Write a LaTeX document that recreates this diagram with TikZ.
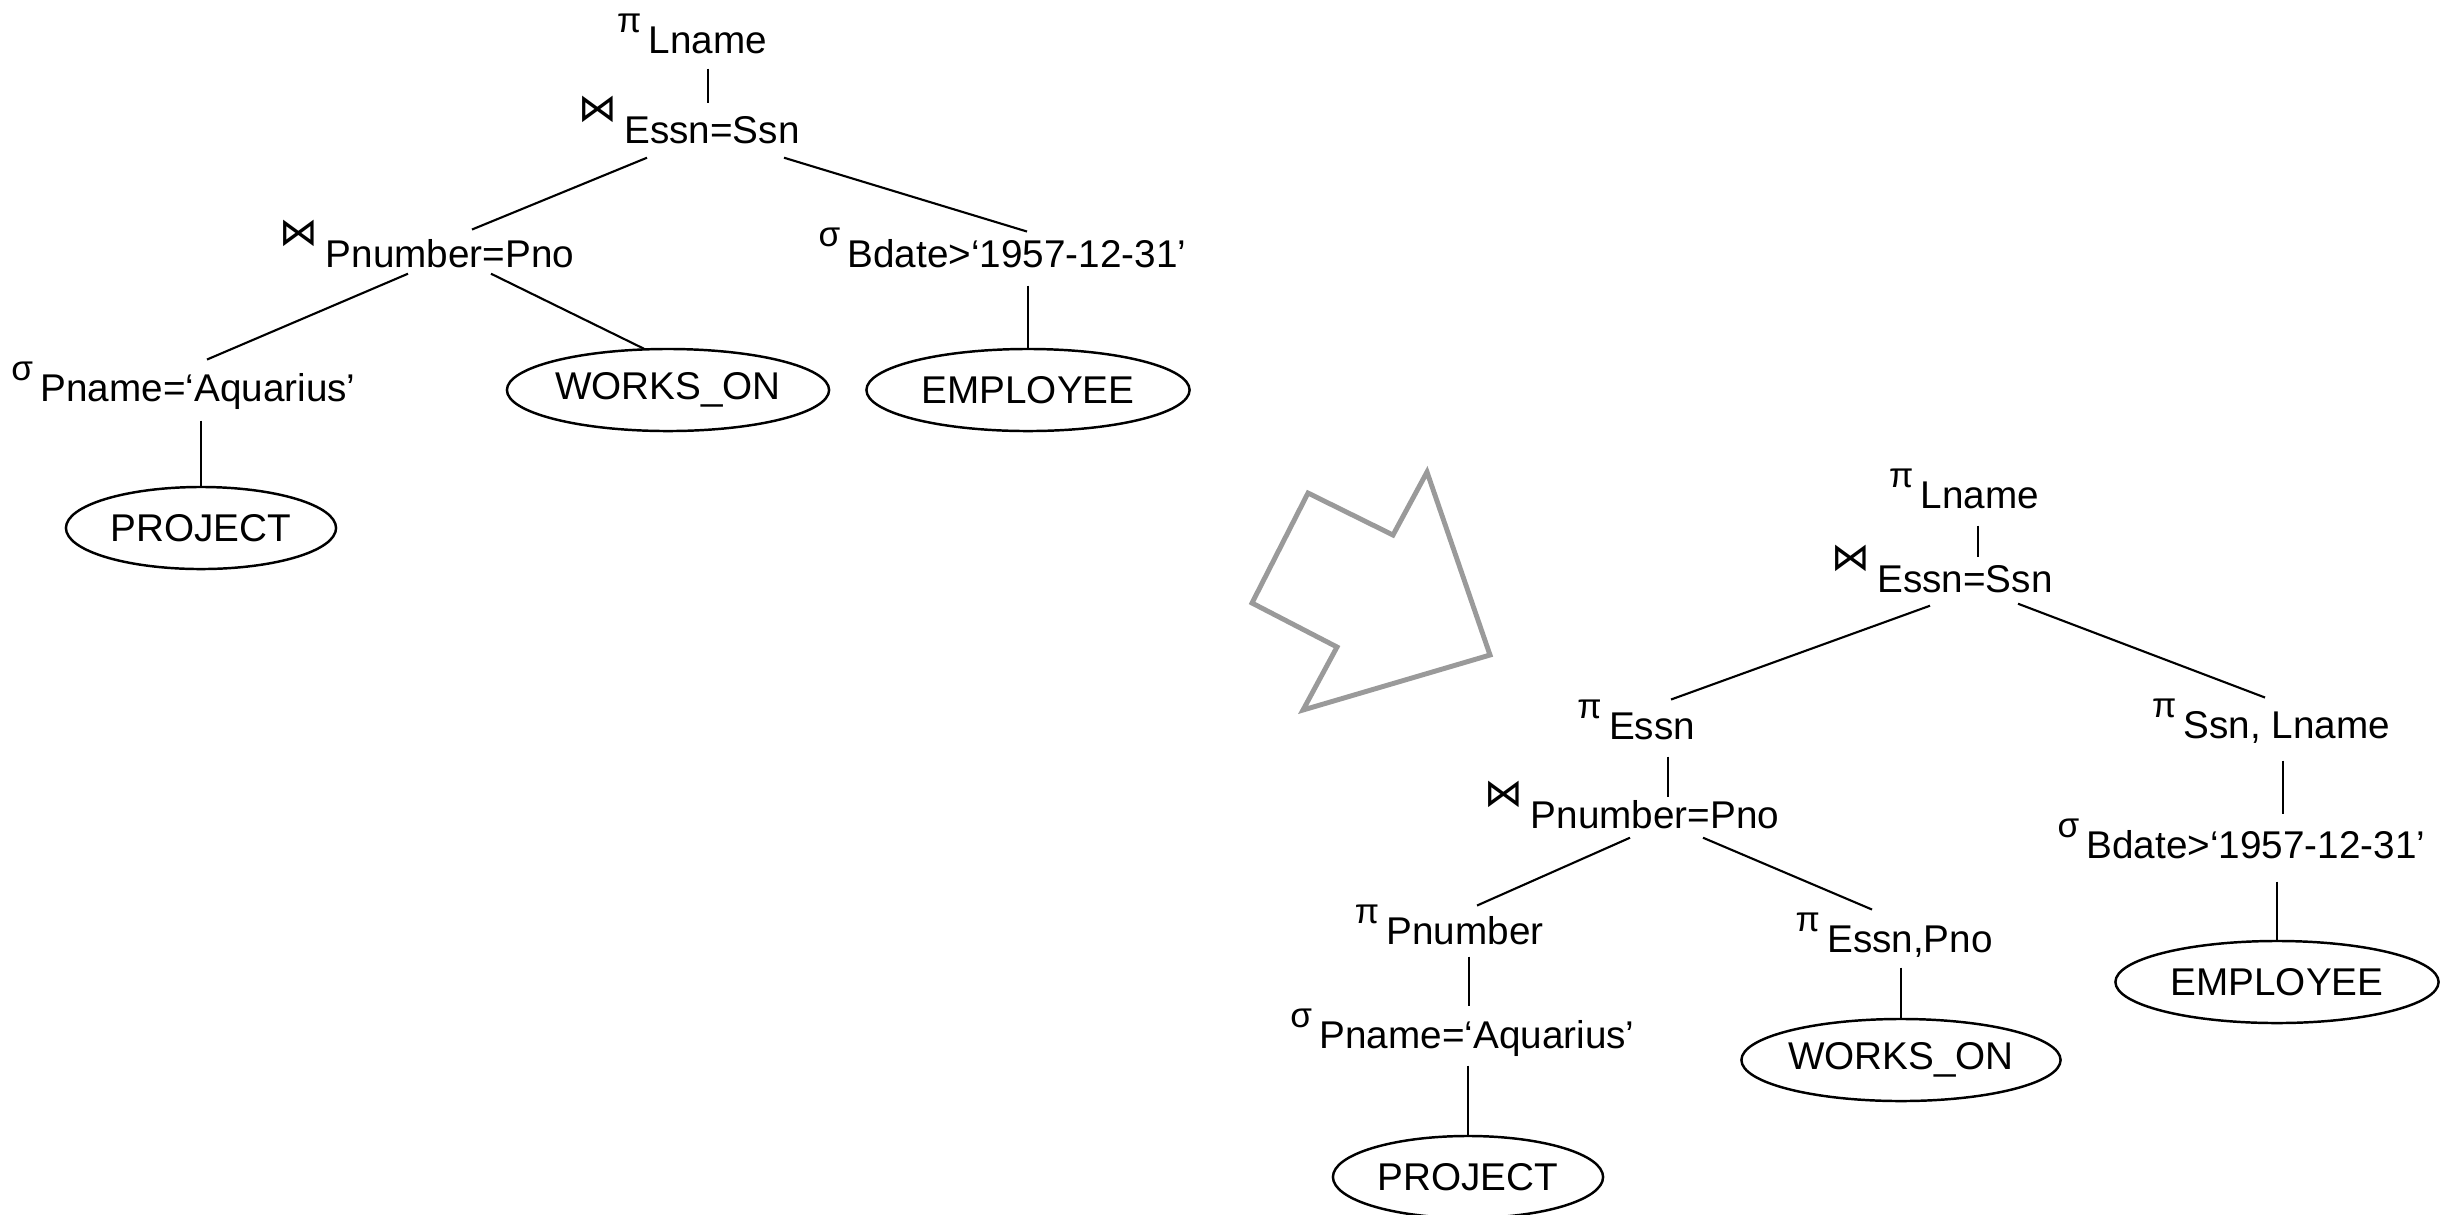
\documentclass[tikz,border=0pt]{standalone}
\usepackage{fontspec}
\setmainfont{Liberation Sans}
\newfontfamily\opfont{DejaVu Sans}
\usetikzlibrary{shapes.geometric,calc}
\definecolor{arrowgray}{HTML}{9A9A9A}
\newcommand{\joinsym}{{\opfont\fontsize{11}{11}\selectfont ⋈}}

\begin{document}
\begin{tikzpicture}[x=0.01cm,y=-0.01cm]
   \tikzstyle{every node}=[inner sep=0pt, font=\fontsize{11}{13}\selectfont]
   \tikzstyle{rel}=[anchor=base, text height=7.9pt, text depth=0pt]
   \tikzstyle{opsym}=[anchor=south east, inner sep=0pt, xshift=-0.06cm, yshift=-0.09cm, font=\fontsize{10}{10}\selectfont]
   \tikzstyle{tbl}=[draw, ellipse, line width=0.7pt, minimum height=0.82cm]
   \tikzstyle{edge}=[line width=0.6pt]
   \tikzset{op/.style={label={[opsym]north west:#1}}}
   \useasboundingbox (0,0) rectangle (2454,1214);

\node[rel, op=π] (pL) at (708,53) {Lname};
\node[rel, op=\joinsym] (jL) at (712,143) {Essn=Ssn};
\node[rel, op=\joinsym] (jP) at (450,267) {Pnumber=Pno};
\node[rel, op=σ] (sB) at (1017,267) {Bdate>‘1957-12-31’};
\node[rel, op=σ] (sP) at (198,401) {Pname=‘Aquarius’};
\node[tbl, minimum width=3.22cm] (wo) at (668,390) {WORKS\_ON};
\node[tbl, minimum width=3.23cm] (em) at (1028,390) {EMPLOYEE};
\node[tbl, minimum width=2.7cm] (pr) at (201,528) {PROJECT};

\draw[edge] ($(pL.south)+(0,15)$) -- ($(pL.south |- jL.north)+(0,-12)$);
\draw[edge] ($(jL.south)+(-65,14)$) -- ($(jP.north)+(22,-9)$);
\draw[edge] ($(jL.south)+(72,14)$) -- ($(sB.north)+(10,-7)$);
\draw[edge] ($(jP.south)+(-42,6)$) -- ($(sP.north)+(9,-13)$);
\draw[edge] ($(jP.south)+(41,6)$) -- ($(wo.north)+(-24,1)$);
\draw[edge] ($(em.north |- sB.south)+(0,18)$) -- (em.north);
\draw[edge] ($(pr.north |- sP.south)+(0,19)$) -- (pr.north);

\draw[line width=1.4pt, arrowgray] (1308,493) -- (1393,535) -- (1427,472) -- (1490,655)
    -- (1303,710) -- (1337,647) -- (1252,603) -- cycle;

\node[rel, op=π] (pL2) at (1980,508) {Lname};
\node[rel, op=\joinsym] (jL2) at (1965,592) {Essn=Ssn};
\node[rel, op=π] (pE) at (1652,739) {Essn};
\node[rel, op=π] (pS) at (2287,738) {Ssn, Lname};
\node[rel, op=\joinsym] (jP2) at (1655,828) {Pnumber=Pno};
\node[rel, op=σ] (sB2) at (2256,858) {Bdate>‘1957-12-31’};
\node[rel, op=π] (pP) at (1465,944) {Pnumber};
\node[rel, op=π] (pEP) at (1910,952) {Essn,Pno};
\node[rel, op=σ] (sP2) at (1477,1048) {Pname=‘Aquarius’};
\node[tbl, minimum width=3.18cm] (wo2) at (1901,1060) {WORKS\_ON};
\node[tbl, minimum width=3.23cm] (em2) at (2277,982) {EMPLOYEE};
\node[tbl, minimum width=2.7cm] (pr2) at (1468,1177) {PROJECT};

\draw[edge] ($(pL2.south)+(-2,17)$) -- ($(pL2.south |- jL2.north)+(-2,-7)$);
\draw[edge] ($(jL2.south)+(-35,13)$) -- ($(pE.north)+(19,-11)$);
\draw[edge] ($(jL2.south)+(53,11)$) -- ($(pS.north)+(-22,-12)$);
\draw[edge] ($(pE.south)+(16,17)$) -- ($(pE.south |- jP2.north)+(16,-3)$);
\draw[edge] ($(pS.south)+(-4,22)$) -- ($(pS.south |- sB2.north)+(-4,-16)$);
\draw[edge] ($(em2.north |- sB2.south)+(0,23)$) -- (em2.north);
\draw[edge] ($(jP2.south)+(-25,9)$) -- ($(pP.north)+(12,-10)$);
\draw[edge] ($(jP2.south)+(48,9)$) -- ($(pEP.north)+(-38,-14)$);
\draw[edge] ($(pP.south)+(4,12)$) -- ($(pP.south |- sP2.north)+(4,-14)$);
\draw[edge] ($(pr2.north |- sP2.south)+(0,17)$) -- (pr2.north);
\draw[edge] ($(wo2.north |- pEP.south)+(0,15)$) -- (wo2.north);

\end{tikzpicture}
\end{document}
